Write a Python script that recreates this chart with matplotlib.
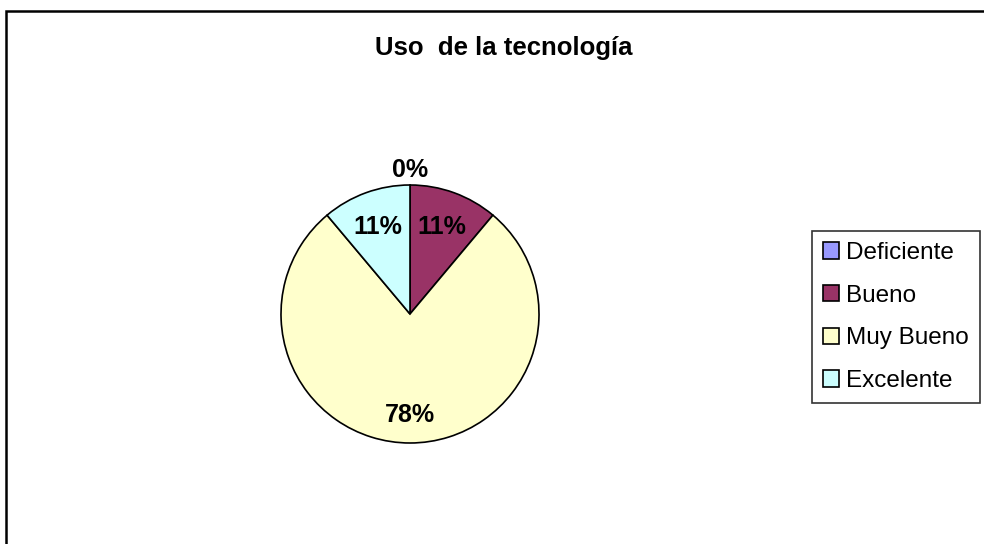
import matplotlib.pyplot as plt
from matplotlib.patches import Rectangle

categorias = ["Deficiente", "Bueno", "Muy Bueno", "Excelente"]
respuestas = [0, 1, 7, 1]
colores = ["#9999FF", "#993366", "#FFFFCC", "#CCFFFF"]
titulo = "Uso  de la tecnología"

W, H = 984, 544
plt.rcParams["font.family"] = ["Liberation Sans", "DejaVu Sans"]

fig = plt.figure(figsize=(W / 100, H / 100), dpi=100)

# marco del grafico
fig.patches.append(Rectangle((6 / W, -0.1), 1.2, 1.1 - 11 / H, transform=fig.transFigure,
                             fill=False, edgecolor="black", linewidth=1.8))

cx, cy, r = 410, 314, 129
ax = fig.add_axes([(cx - r) / W, (H - cy - r) / H, 2 * r / W, 2 * r / H])

wedges, textos, pcts = ax.pie(respuestas, colors=colores, startangle=90, counterclock=False,
                              autopct="%1.0f%%", pctdistance=0.72,
                              wedgeprops=dict(edgecolor="black", linewidth=1.2),
                              textprops=dict(fontsize=18, fontweight="bold"))
pcts[2].set_position((0, -0.78))
pcts[0].set_position((0, 1.12))
ax.set_xlim(-1, 1)
ax.set_ylim(-1, 1)

fig.text(504 / W, 1 - 48 / H, titulo, ha="center", va="center", fontsize=18.5, fontweight="bold")

leg = fig.legend(wedges, categorias, loc="center", bbox_to_anchor=(896 / W, 1 - 317 / H),
                 fontsize=17.5, frameon=True, fancybox=False, handlelength=0.65, handleheight=0.65,
                 handletextpad=0.3, labelspacing=0.85, borderpad=0.45, borderaxespad=0,
                 edgecolor="black")
leg.get_frame().set_linewidth(1.2)
for h in leg.legend_handles:
    h.set_linewidth(1.2)

fig.savefig("out.png", dpi=100)
